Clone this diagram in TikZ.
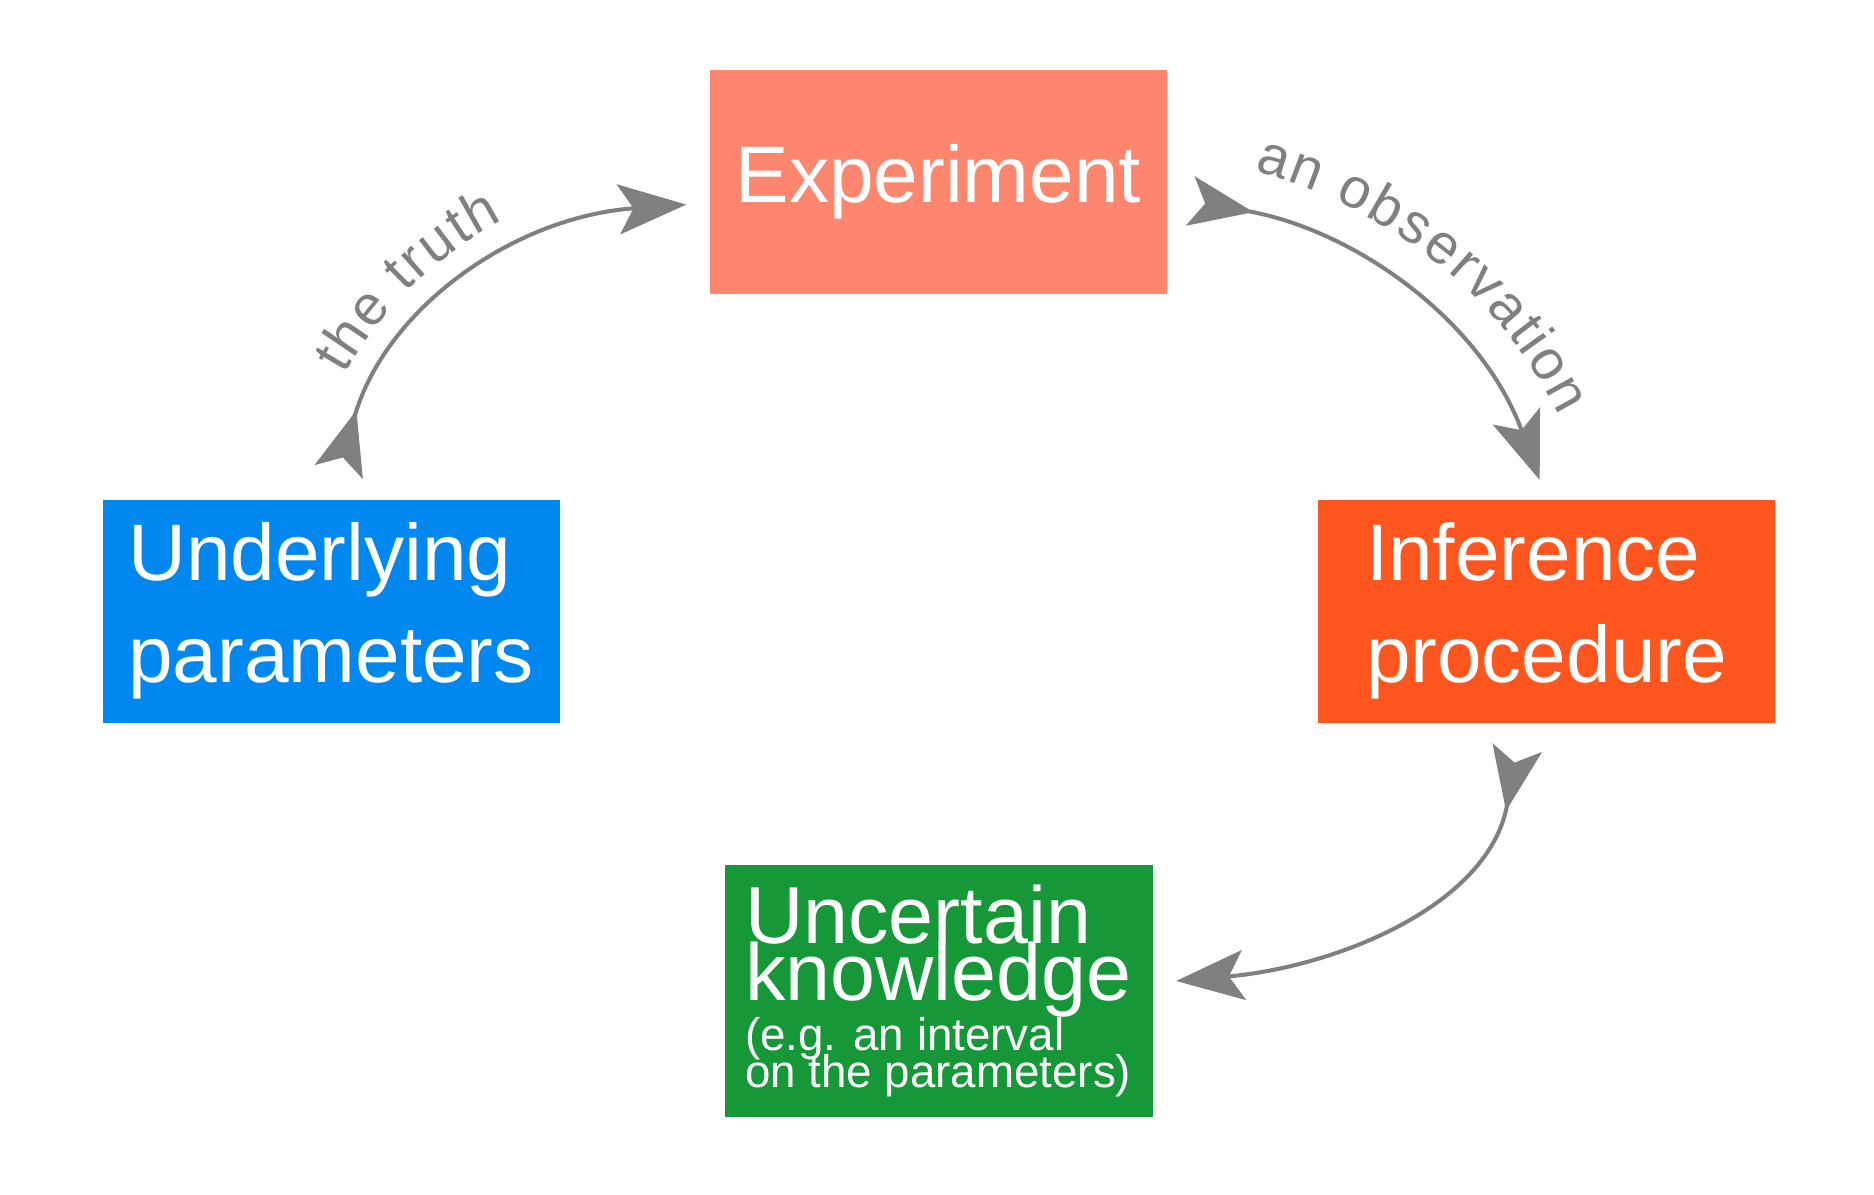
\documentclass[tikz,border=0pt]{standalone}
\usepackage{fontspec}
\setmainfont{Liberation Sans}
\usetikzlibrary{arrows.meta}
\usetikzlibrary{decorations.text}

\definecolor{expsalmon}{RGB}{255,134,110}
\definecolor{parblue}{RGB}{0,136,240}
\definecolor{infred}{RGB}{255,85,30}
\definecolor{knowgreen}{RGB}{22,152,56}
\definecolor{arrowgray}{RGB}{128,128,128}
\newcommand{\arclabel}{\fontsize{16}{20}\selectfont\color{arrowgray}}
\newcommand{\tightlines}{\fontsize{23}{16.2}\selectfont\lineskiplimit=-28pt\relax}
\newcommand{\smallnote}{\fontsize{13}{13}\selectfont}

\begin{document}
\begin{tikzpicture}[stage/.style={minimum width=4.57cm, minimum height=2.23cm, inner sep=0pt, text=white, align=left, font=\fontsize{22.8}{29}\selectfont},
        flow/.style={draw=arrowgray, line width=1.15pt, {Stealth[reversed, length=6.4mm, width=5mm, inset=1.5mm]}-{Stealth[length=6.8mm, width=5mm, inset=1.5mm]}}]
        \useasboundingbox (0, 0) rectangle (18.74, 11.94);
        \node[stage, fill=expsalmon] (exp) at (9.385, 10.12) {Experiment};
        \node[stage, fill=parblue] (par) at (3.31, 5.83) {Underlying\\parameters};
        \node[stage, fill=infred] (inf) at (15.465, 5.83) {Inference\\procedure};
        \node[stage, fill=knowgreen, minimum width=4.28cm, minimum height=2.52cm, font=\tightlines] (know) at (9.385, 2.03)
            {Uncertain\\knowledge\\[-2pt]{\smallnote (e.g. an interval}\\[-5.4pt]{\smallnote on the parameters)}};
        \draw[flow, shorten <=0.28cm, shorten >=0.23cm, postaction={decorate, decoration={text along path, raise=0.35cm, text align={left indent=1.15cm}, text={|\arclabel|the truth}}}]
            (par.north) to[out=74, in=184, looseness=1.05] ([yshift=-0.21cm]exp.west);
        \draw[flow, shorten <=0.23cm, shorten >=0.2cm, postaction={decorate, decoration={text along path, raise=0.45cm, text align={left indent=0.75cm}, text={|\arclabel|an observation}}}]
            ([yshift=-0.15cm]exp.east) to[out=-10, in=110, looseness=1.0] (inf.north);
        \draw[flow, shorten <=0.25cm, shorten >=0.23cm]
            ([xshift=-0.25cm]inf.south) to[out=-100, in=5, looseness=1.05] ([yshift=0.08cm]know.east);
    \end{tikzpicture}
\end{document}
